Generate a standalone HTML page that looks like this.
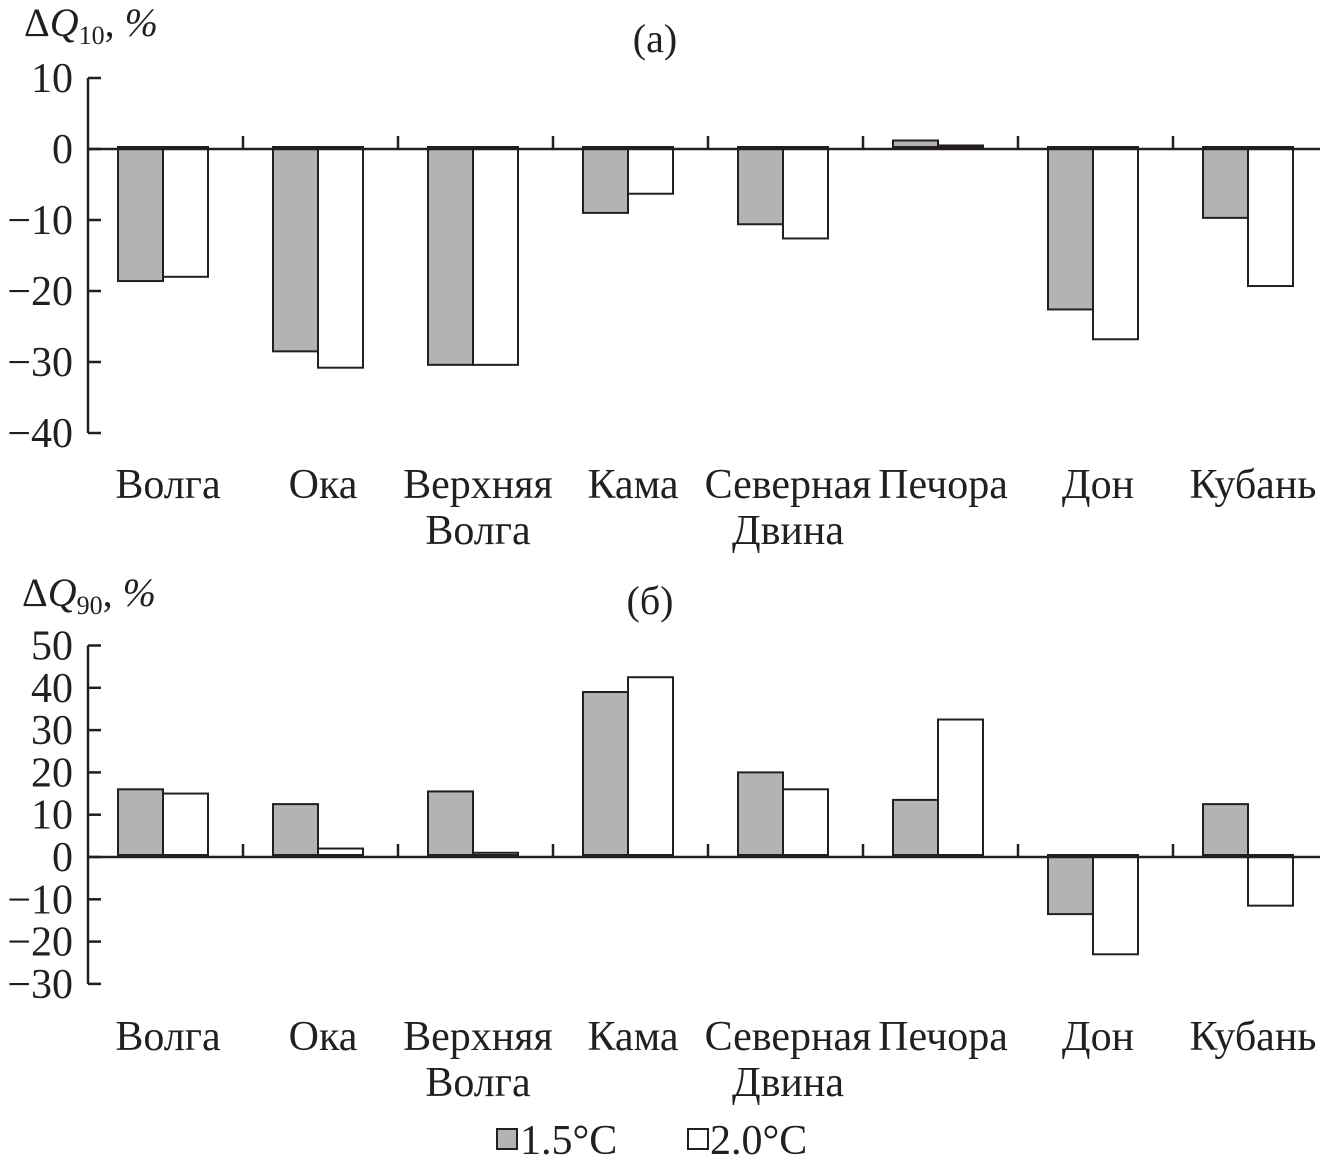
<!DOCTYPE html>
<html><head><meta charset="utf-8">
<style>
html,body{margin:0;padding:0;background:#fff;}
svg{display:block;}
text{font-family:"Liberation Serif",serif;fill:#231f20;}
</style></head>
<body>
<svg id="c" width="1322" height="1168" viewBox="0 0 1322 1168"></svg>
<script>
const categories=[["Волга"],["Ока"],["Верхняя","Волга"],["Кама"],["Северная","Двина"],["Печора"],["Дон"],["Кубань"]];
const q10_15=[-18.6,-28.5,-30.4,-9,-10.6,1.2,-22.6,-9.7];
const q10_20=[-18,-30.8,-30.4,-6.3,-12.6,0.5,-26.8,-19.3];
const q90_15=[16,12.5,15.5,39,20,13.5,-13.5,12.5];
const q90_20=[15,2,1,42.5,16,32.5,-23,-11.5];
const ticksA=[10,0,-10,-20,-30,-40];
const ticksB=[50,40,30,20,10,0,-10,-20,-30];
const NS="http://www.w3.org/2000/svg";
const svg=document.getElementById('c');
function mk(t,a,p){const e=document.createElementNS(NS,t);for(const k in a)e.setAttribute(k,a[k]);(p||svg).appendChild(e);return e;}
function panel(o){
  const g=mk('g',{});
  
  
  const y=v=>o.y0-(v)*o.k;
  const x0=88,step=155;
  const ax=mk('line',{x1:x0,y1:y(o.ticks[0]),x2:x0,y2:y(o.ticks[o.ticks.length-1]),stroke:'#231f20','stroke-width':2.5},g);
  
  
  o.ticks.forEach(t=>{
    mk('line',{x1:x0,y1:y(t),x2:x0+13,y2:y(t),stroke:'#231f20','stroke-width':2.5},g);
    const tx=mk('text',{x:73,y:y(t)+14,'text-anchor':'end','font-size':42},g);
    tx.textContent=(t<0?'\u2212'+(-t):t);
    
    
  });
  categories.forEach((c,i)=>{
    const bx=x0+30+i*step;
    [[o.s1[i],'#b3b3b3',bx],[o.s2[i],'#ffffff',bx+45]].forEach((s,j)=>{
      const v=s[0],top=Math.min(y(v),o.y0-2),h=Math.max(Math.abs(y(v)-(o.y0-2)),2);
      const r=mk('rect',{x:s[2],y:top,width:45,height:h,fill:s[1],stroke:'#231f20','stroke-width':2},g);
      
      
    });
    if(i>0) mk('line',{x1:x0+i*step,y1:o.y0,x2:x0+i*step,y2:o.y0-13,stroke:'#231f20','stroke-width':2.5},g);
    c.forEach((l,li)=>{
      const t=mk('text',{x:bx+50,y:o.ly+li*46,'text-anchor':'middle','font-size':42},g);
      t.textContent=l;
      
      
    });
  });
  const xa=mk('line',{x1:x0,y1:o.y0,x2:1320,y2:o.y0,stroke:'#231f20','stroke-width':2.5},g);
  
  
}
panel({name:'panel-a',y0:149,k:7.1,ticks:ticksA,s1:q10_15,s2:q10_20,ly:498});
panel({name:'panel-b',y0:857,k:4.23,ticks:ticksB,s1:q90_15,s2:q90_20,ly:1050});
</script>
<svg style="position:absolute;left:0;top:0" width="1322" height="1168">
<text x="24" y="36" font-size="40">Δ<tspan font-style="italic">Q</tspan><tspan font-size="26" dy="8">10</tspan><tspan dy="-8">, </tspan><tspan font-style="italic">%</tspan></text>
<text x="655" y="52" font-size="40" text-anchor="middle">(a)</text>
<text x="22" y="606" font-size="40">Δ<tspan font-style="italic">Q</tspan><tspan font-size="26" dy="8">90</tspan><tspan dy="-8">, </tspan><tspan font-style="italic">%</tspan></text>
<text x="650" y="614" font-size="40" text-anchor="middle">(б)</text>
<g>
<rect x="497" y="1129" width="20" height="20" fill="#b3b3b3" stroke="#231f20" stroke-width="2"/>
<text x="520" y="1154" font-size="42">1.5°C</text>
<rect x="688" y="1129" width="20" height="20" fill="#fff" stroke="#231f20" stroke-width="2"/>
<text x="710" y="1154" font-size="42">2.0°C</text>
</g>
</svg>
</body></html>
